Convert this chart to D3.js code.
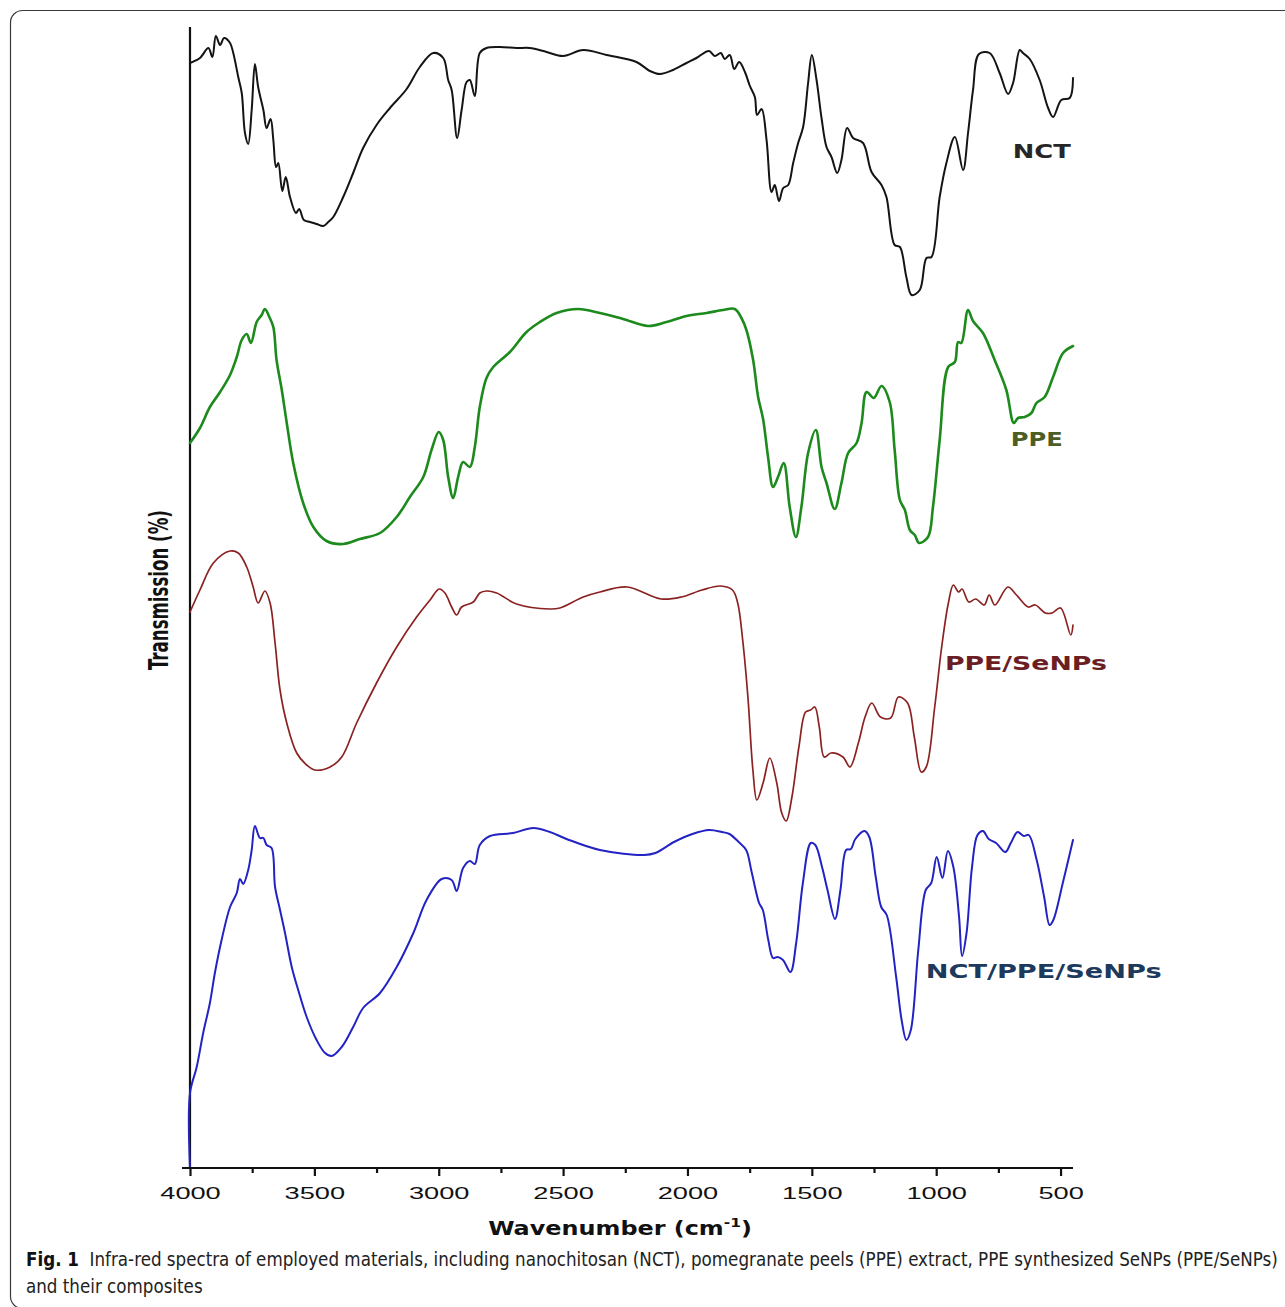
<!DOCTYPE html>
<html><head><meta charset="utf-8">
<script src="https://cdn.jsdelivr.net/npm/d3@7"></script>
<style>html,body{margin:0;padding:0;background:#fff;} svg{display:block;}</style>
</head><body>
<svg id="chart" width="1285" height="1307"></svg>
<script>
// ---------- data ----------
const majorTicks = [4000,3500,3000,2500,2000,1500,1000,500];
const minorTicks = [3750,3250,2750,2250,1750,1250,750];
const seriesNames = ["NCT","PPE","PPE/SeNPs","NCT/PPE/SeNPs"];
const xTitle = "Wavenumber (cm";
const xTitleSup = "-1";
const yTitle = "Transmission (%)";
const captionBold = "Fig. 1";
const captionLine1 = "Infra-red spectra of employed materials, including nanochitosan (NCT), pomegranate peels (PPE) extract, PPE synthesized SeNPs (PPE/SeNPs)";
const captionLine2 = "and their composites";

// [wavenumber (cm-1), offset transmission]
const nct = [[4000,110.5],[3960,111.0],[3926,112.0],[3910,111.1],[3896,113.2],[3879,112.3],[3863,113.0],[3839,112.5],[3826,111.5],[3806,109.1],[3792,107.5],[3779,103.5],[3766,102.4],[3752,105.8],[3739,110.4],[3726,108.1],[3705,105.8],[3692,104.0],[3676,104.9],[3665,102.8],[3654,100.1],[3645,100.5],[3629,97.7],[3615,99.1],[3598,97.1],[3574,95.5],[3561,95.9],[3542,94.8],[3518,94.6],[3491,94.4],[3464,94.2],[3444,94.6],[3424,95.1],[3384,97.1],[3344,99.5],[3304,102.0],[3250,104.3],[3196,106.0],[3129,107.9],[3076,110.1],[3022,111.5],[2982,111.0],[2962,108.8],[2948,107.8],[2926,103.0],[2908,105.8],[2888,108.6],[2875,108.8],[2855,107.2],[2835,111.5],[2808,112.0],[2754,112.1],[2687,112.0],[2634,112.0],[2566,111.6],[2500,111.2],[2419,111.8],[2325,111.3],[2205,110.6],[2151,109.7],[2111,109.4],[2058,109.8],[2004,110.5],[1964,111.0],[1914,111.7],[1890,111.2],[1866,111.5],[1850,110.9],[1830,111.3],[1812,109.9],[1792,110.6],[1769,109.6],[1749,108.2],[1729,107.1],[1720,105.3],[1702,105.9],[1682,102.8],[1662,97.6],[1649,98.3],[1632,96.7],[1615,98.0],[1595,98.3],[1575,100.5],[1555,102.5],[1535,104.1],[1515,108.5],[1500,111.3],[1481,108.8],[1461,105.0],[1441,102.1],[1421,101.1],[1398,99.5],[1381,100.8],[1358,104.0],[1334,103.0],[1294,102.5],[1260,99.6],[1220,98.3],[1200,97.1],[1167,92.3],[1146,92.1],[1120,89.1],[1099,87.3],[1066,87.8],[1039,91.0],[1019,91.1],[986,97.1],[959,100.5],[925,103.1],[892,99.8],[872,103.5],[852,107.8],[828,111.4],[785,111.5],[745,109.5],[711,107.4],[691,108.5],[664,111.8],[651,111.5],[624,110.9],[584,108.8],[550,106.0],[530,105.1],[497,106.8],[463,107.0],[450,109.0]];

const ppe = [[4000,72.5],[3960,74.0],[3920,76.1],[3879,77.6],[3839,79.3],[3812,81.1],[3792,82.8],[3772,83.4],[3755,82.5],[3732,84.6],[3712,85.3],[3699,85.9],[3681,85.1],[3665,84.1],[3652,80.8],[3631,77.8],[3611,74.5],[3585,70.5],[3545,66.5],[3504,64.1],[3451,62.7],[3384,62.4],[3317,62.9],[3236,63.5],[3169,65.1],[3116,67.1],[3062,69.1],[3029,71.8],[3000,73.6],[2982,72.8],[2962,69.1],[2942,67.0],[2922,69.1],[2902,70.6],[2875,70.1],[2855,72.1],[2835,76.1],[2808,79.0],[2781,80.1],[2714,81.6],[2647,83.6],[2593,84.6],[2526,85.5],[2439,85.9],[2352,85.5],[2259,84.9],[2158,84.2],[2084,84.6],[2004,85.2],[1923,85.5],[1857,85.8],[1810,85.9],[1783,85.0],[1763,83.8],[1736,80.8],[1716,77.1],[1696,74.9],[1676,71.1],[1656,68.1],[1636,69.1],[1613,70.5],[1589,66.1],[1564,63.1],[1542,66.1],[1515,71.5],[1484,73.8],[1461,70.1],[1441,68.5],[1408,65.9],[1381,68.5],[1354,71.5],[1320,72.5],[1300,74.5],[1280,77.6],[1251,77.0],[1220,78.2],[1187,76.6],[1167,71.8],[1146,66.8],[1126,65.8],[1106,63.8],[1086,63.3],[1069,62.5],[1033,63.1],[1013,66.1],[986,72.8],[952,80.1],[925,80.6],[912,82.6],[899,82.5],[872,85.8],[852,84.7],[812,83.5],[765,80.8],[718,77.8],[688,74.5],[671,75.0],[644,75.1],[617,75.5],[597,76.5],[564,77.1],[530,79.1],[490,81.5],[450,82.2]];

const ppeSeNPs = [[4000,55.6],[3960,57.8],[3906,60.5],[3839,61.7],[3806,61.5],[3772,60.1],[3746,58.1],[3726,56.5],[3699,57.7],[3678,56.5],[3658,52.5],[3638,47.8],[3611,44.5],[3571,41.5],[3531,40.3],[3498,39.8],[3437,40.1],[3390,41.1],[3330,44.5],[3250,48.5],[3169,52.1],[3089,55.1],[3035,56.8],[2998,57.9],[2975,57.5],[2948,56.1],[2928,55.3],[2908,56.1],[2861,56.6],[2835,57.5],[2808,57.7],[2767,57.5],[2687,56.4],[2553,55.9],[2513,56.0],[2419,57.1],[2352,57.6],[2243,58.1],[2106,56.9],[2024,57.1],[1942,57.8],[1867,58.2],[1819,57.8],[1798,56.5],[1778,52.8],[1757,47.1],[1737,39.8],[1721,36.8],[1696,38.5],[1669,41.0],[1641,38.5],[1621,35.5],[1603,34.7],[1580,37.1],[1552,42.1],[1525,45.6],[1505,45.8],[1488,46.1],[1470,44.1],[1450,41.1],[1423,41.5],[1375,41.1],[1347,40.1],[1313,42.5],[1286,45.1],[1259,46.5],[1224,45.1],[1183,45.0],[1152,47.1],[1115,46.5],[1088,43.1],[1060,39.6],[1040,40.1],[1006,46.1],[978,52.1],[951,56.5],[931,58.3],[910,57.6],[896,57.9],[869,56.6],[841,56.9],[807,56.3],[787,57.3],[764,56.3],[712,58.1],[677,57.3],[630,56.1],[602,56.3],[561,55.5],[534,55.5],[500,56.0],[459,53.3],[450,54.3]];

const nctPpeSeNPs = [[4000,0],[4000,7.5],[3973,10.1],[3947,13.5],[3920,16.5],[3900,19.5],[3873,22.8],[3839,26.1],[3812,27.5],[3799,28.9],[3786,28.4],[3766,29.8],[3752,31.8],[3739,34.2],[3719,33.0],[3705,33.0],[3692,32.3],[3672,32.0],[3658,28.1],[3638,25.8],[3618,23.5],[3591,20.1],[3565,17.8],[3531,15.1],[3491,12.8],[3457,11.5],[3430,11.2],[3390,12.1],[3344,14.1],[3304,16.0],[3236,17.5],[3169,20.1],[3102,23.5],[3049,26.8],[2988,28.9],[2948,28.8],[2928,27.7],[2902,30.0],[2875,30.7],[2855,30.4],[2835,32.3],[2794,33.2],[2701,33.5],[2620,34.0],[2553,33.6],[2486,32.9],[2352,31.8],[2174,31.3],[2129,31.5],[2054,32.6],[1980,33.4],[1913,33.8],[1861,33.6],[1831,33.4],[1794,32.6],[1764,31.8],[1742,29.6],[1712,26.5],[1697,25.8],[1675,22.8],[1656,21.0],[1638,21.1],[1616,20.8],[1586,19.6],[1563,22.5],[1536,28.5],[1504,32.5],[1486,32.3],[1459,30.1],[1437,27.8],[1407,24.9],[1385,27.8],[1362,31.8],[1343,31.9],[1325,32.9],[1288,33.7],[1269,33.1],[1243,29.1],[1221,26.1],[1199,25.3],[1161,19.1],[1139,14.8],[1120,12.8],[1102,13.8],[1072,21.8],[1042,27.8],[1020,28.5],[998,31.1],[975,29.0],[953,31.7],[931,30.1],[908,25.1],[896,21.2],[878,23.5],[856,30.1],[834,33.3],[812,33.7],[789,32.9],[759,32.5],[722,31.6],[700,32.5],[673,33.6],[648,33.2],[628,33.3],[596,30.8],[566,27.1],[544,24.3],[529,24.8],[491,28.5],[450,32.8]];

// ---------- drawing ----------
const svg = d3.select("#chart");
const x = d3.scaleLinear().domain([4000, 450]).range([190, 1073]);
const y = d3.scaleLinear().domain([0, 114]).range([1168, 28]);

function fitText(sel, tx, ty, width, rot, sOverride) {
  const len = sel.node().getComputedTextLength();
  const s = sOverride || (width / len);
  sel.attr("transform", `translate(${tx},${ty})` + (rot ? ` rotate(${rot})` : "") + ` scale(${s},1)`);
  return s;
}

// frame (bottom/right edges run off the canvas as in the reference)
svg.append("rect").attr("x", 10.5).attr("y", 10.5).attr("width", 1300).attr("height", 1298)
  .attr("rx", 12).attr("fill", "none").attr("stroke", "#3a3a3a").attr("stroke-width", 1.2);

// y axis line
svg.append("line").attr("x1", x(4000)).attr("x2", x(4000)).attr("y1", y(114) - 1).attr("y2", y(0))
  .attr("stroke", "#111").attr("stroke-width", 2.2);

// series
const styles = [
  {data: nct, color: "#141414", w: 2.0},
  {data: ppe, color: "#1c8a1c", w: 2.6},
  {data: ppeSeNPs, color: "#8b2222", w: 1.7},
  {data: nctPpeSeNPs, color: "#2323c4", w: 2.0}
];
const line = d3.line().x(d => x(d[0])).y(d => y(d[1])).curve(d3.curveCatmullRom.alpha(0.5));
svg.append("g").selectAll("path").data(styles).join("path")
  .attr("d", d => line(d.data)).attr("fill", "none")
  .attr("stroke", d => d.color).attr("stroke-width", d => d.w)
  .attr("stroke-linejoin", "round").attr("stroke-linecap", "round");

// x axis
const gx = svg.append("g").attr("transform", `translate(0,${y(0)})`)
  .call(d3.axisBottom(x).tickValues(majorTicks).tickSize(8).tickSizeOuter(0).tickFormat(d3.format("d")));
gx.select(".domain").remove();
gx.selectAll(".tick line").attr("stroke", "#111").attr("stroke-width", 2.2);
gx.selectAll(".tick text").attr("y", 31).attr("dy", null)
  .attr("font-size", 17).attr("font-family", "'Liberation Sans', Arial, sans-serif")
  .attr("fill", "#111").attr("transform", "scale(1.6,1)");
const gm = svg.append("g").attr("transform", `translate(0,${y(0)})`)
  .call(d3.axisBottom(x).tickValues(minorTicks).tickSize(5).tickSizeOuter(0).tickFormat(""));
gm.select(".domain").remove();
gm.selectAll(".tick line").attr("stroke", "#111").attr("stroke-width", 2.2);
svg.append("line").attr("x1", x(4000) - 8).attr("x2", x(450)).attr("y1", y(0)).attr("y2", y(0))
  .attr("stroke", "#111").attr("stroke-width", 2.2);

// x title
const xt = svg.append("text").attr("text-anchor", "middle")
  .attr("font-family", "'DejaVu Sans', Verdana, sans-serif").attr("font-weight", "bold")
  .attr("font-size", 20).attr("fill", "#111");
xt.append("tspan").text(xTitle);
xt.append("tspan").attr("font-size", 13).attr("dy", -8).text(xTitleSup);
xt.append("tspan").attr("dy", 8).text(")");
fitText(xt, 620, 1235, 264);

// y title
const yt = svg.append("text").attr("text-anchor", "middle")
  .attr("font-family", "'Liberation Sans Narrow', 'DejaVu Sans Condensed', 'Open Sans', sans-serif")
  .attr("font-weight", "bold").attr("font-size", 27).attr("fill", "#111").text(yTitle);
fitText(yt, 168, 590, 160, -90);

// series labels
const labelCfg = [
  {wn: 692, t: 101.0, w: 58, color: "#262626"},
  {wn: 700, t: 72.2, w: 52, color: "#4c5e26"},
  {wn: 965, t: 49.8, w: 162, color: "#6b1f24"},
  {wn: 1042, t: 19.0, w: 236, color: "#1d3a5c"}
];
seriesNames.forEach((name, i) => {
  const c = labelCfg[i];
  const t = svg.append("text").attr("font-family", "'DejaVu Sans', Verdana, sans-serif")
    .attr("font-weight", "bold").attr("font-size", 20).attr("fill", c.color).text(name);
  fitText(t, x(c.wn), y(c.t), c.w);
});

// caption
const capFont = "'Liberation Sans Narrow', 'DejaVu Sans Condensed', 'Open Sans', sans-serif";
const c1 = svg.append("text").attr("font-family", capFont).attr("font-size", 19).attr("fill", "#222");
c1.append("tspan").attr("font-weight", "bold").attr("fill", "#111").text(captionBold);
c1.append("tspan").attr("xml:space", "preserve").text("  " + captionLine1);
const sCap = fitText(c1, 26, 1266, 1252);
const c2 = svg.append("text").attr("font-family", capFont).attr("font-size", 19).attr("fill", "#222").text(captionLine2);
fitText(c2, 26, 1293, 0, 0, sCap);
</script>
</body></html>
